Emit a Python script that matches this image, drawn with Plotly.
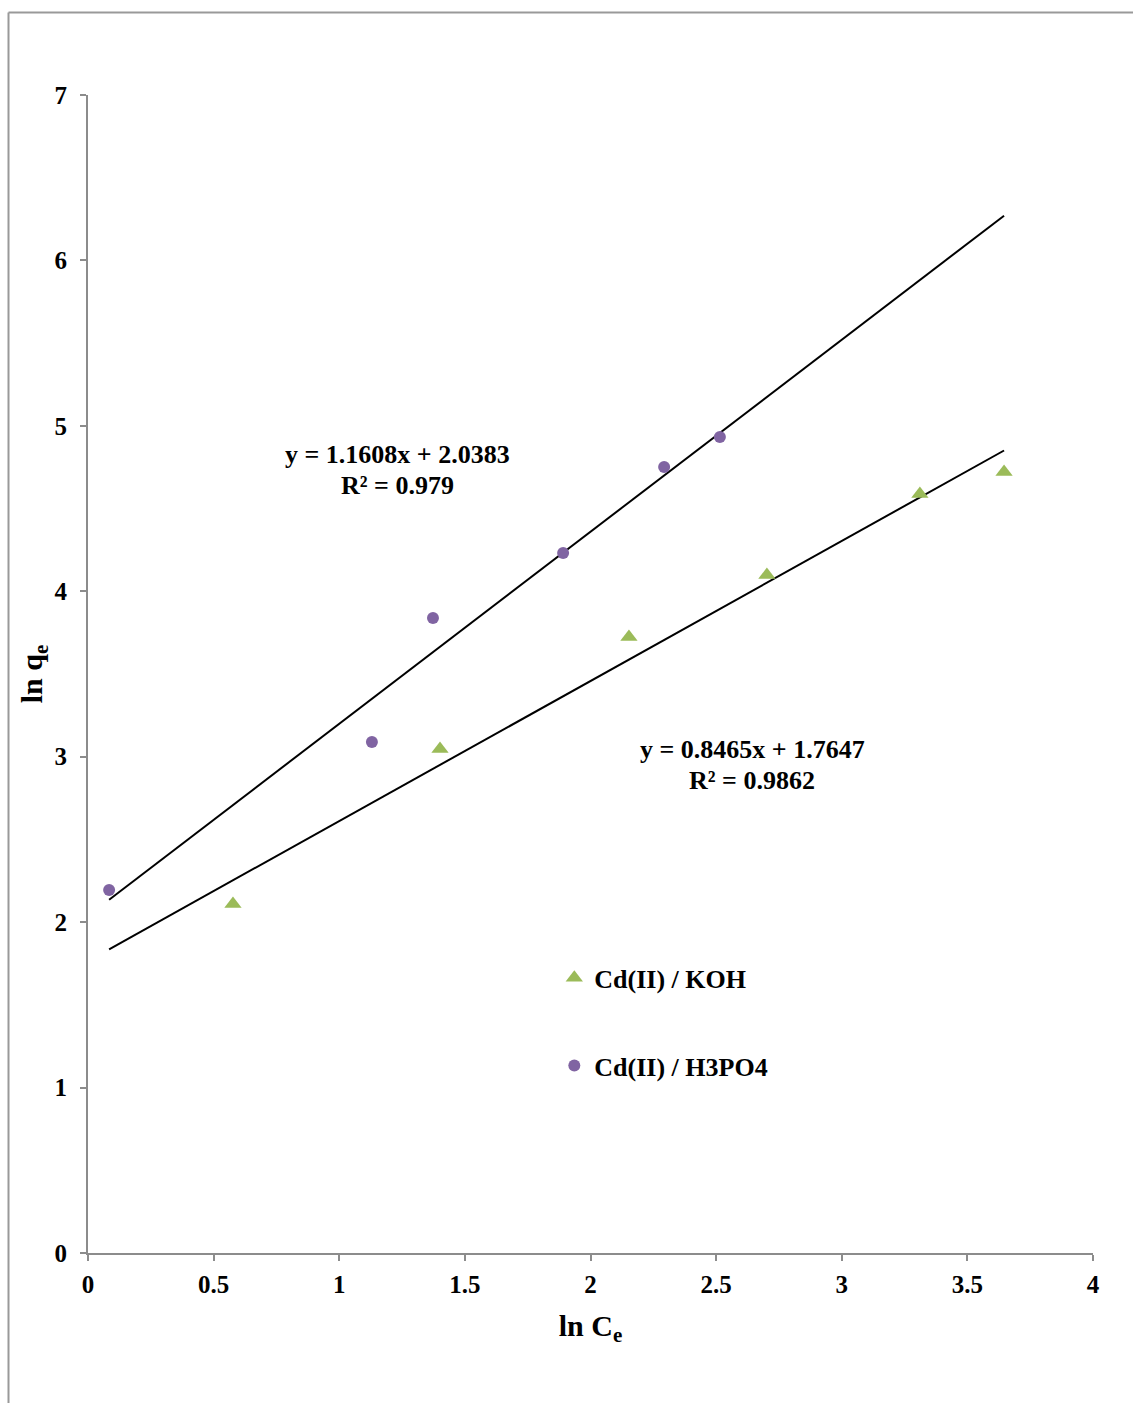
import plotly.graph_objects as go

# Data
koh_x = [0.577, 1.401, 2.153, 2.702, 3.311, 3.646]
koh_y = [2.110, 3.047, 3.724, 4.098, 4.588, 4.721]
h3_x = [0.084, 1.130, 1.373, 1.891, 2.293, 2.515]
h3_y = [2.194, 3.089, 3.838, 4.231, 4.751, 4.933]

koh_slope, koh_int = 0.8465, 1.7647
h3_slope, h3_int = 1.1608, 2.0383

koh_label = "Cd(II) / KOH"
h3_label = "Cd(II) / H3PO4"

x_ticks = [0, 0.5, 1, 1.5, 2, 2.5, 3, 3.5, 4]
y_ticks = [0, 1, 2, 3, 4, 5, 6, 7]

FONT = "Liberation Serif"
GREEN = "#9BBB59"
PURPLE = "#8064A2"
AXIS = "#8c8c8c"

xmin = min(koh_x + h3_x)
xmax = max(koh_x + h3_x)
line_x = [xmin, xmax]

fig = go.Figure()
fig.add_trace(go.Scatter(x=line_x, y=[h3_slope * v + h3_int for v in line_x], mode="lines",
                         line=dict(color="black", width=2), showlegend=False, hoverinfo="skip"))
fig.add_trace(go.Scatter(x=line_x, y=[koh_slope * v + koh_int for v in line_x], mode="lines",
                         line=dict(color="black", width=2), showlegend=False, hoverinfo="skip"))
fig.add_trace(go.Scatter(x=koh_x, y=koh_y, mode="markers", name=koh_label, legendgroup="a",
                         marker=dict(symbol="triangle-up", size=15, color=GREEN)))
fig.add_trace(go.Scatter(x=h3_x, y=h3_y, mode="markers", name=h3_label, legendgroup="b",
                         marker=dict(symbol="circle", size=12, color=PURPLE)))

ann_font = dict(family=FONT, size=26, color="black", weight="bold")
fig.add_annotation(x=1.23, y=4.824, text="y = 1.1608x + 2.0383", showarrow=False, font=ann_font)
fig.add_annotation(x=1.23, y=4.642, text="R² = 0.979", showarrow=False, font=ann_font)
fig.add_annotation(x=2.643, y=3.041, text="y = 0.8465x + 1.7647", showarrow=False, font=ann_font)
fig.add_annotation(x=2.643, y=2.859, text="R² = 0.9862", showarrow=False, font=ann_font)

# outer frame (left and top border)
fig.add_shape(type="line", xref="paper", yref="paper", x0=-0.0791, x1=-0.0791, y0=1.0712, y1=-0.13,
              line=dict(color="#999999", width=2))
fig.add_shape(type="line", xref="paper", yref="paper", x0=-0.0791, x1=1.04, y0=1.0712, y1=1.0712,
              line=dict(color="#999999", width=2))

tick_font = dict(family=FONT, size=25, color="black", weight="bold")
fig.update_xaxes(range=[0, 4], tickvals=x_ticks, ticktext=[f"{v:g}" for v in x_ticks],
                 showgrid=False, zeroline=False, showline=True, linecolor=AXIS, linewidth=2,
                 ticks="outside", ticklen=6, tickcolor=AXIS, tickwidth=2, tickfont=tick_font,
                 ticklabelstandoff=2,
                 title=dict(text="ln C<sub>e</sub>", font=dict(family=FONT, size=30, color="black", weight="bold"),
                            standoff=18))
fig.update_yaxes(range=[0, 7], tickvals=y_ticks, ticktext=[str(v) for v in y_ticks],
                 showgrid=False, zeroline=False, showline=True, linecolor=AXIS, linewidth=2,
                 ticks="outside", ticklen=6, tickcolor=AXIS, tickwidth=2, tickfont=tick_font,
                 ticklabelstandoff=8,
                 title=dict(text="ln q<sub>e</sub>", font=dict(family=FONT, size=30, color="black", weight="bold"),
                            standoff=3))

fig.update_layout(
    width=1133, height=1403,
    margin=dict(l=88, r=40, t=95, b=150),
    plot_bgcolor="white", paper_bgcolor="white",
    showlegend=True,
    legend=dict(x=0.464, y=0.258, xanchor="left", yanchor="top", tracegroupgap=51,
                font=dict(family=FONT, size=26, color="black", weight="bold"),
                bgcolor="rgba(0,0,0,0)", itemwidth=30),
)

fig.write_html("out.html")
